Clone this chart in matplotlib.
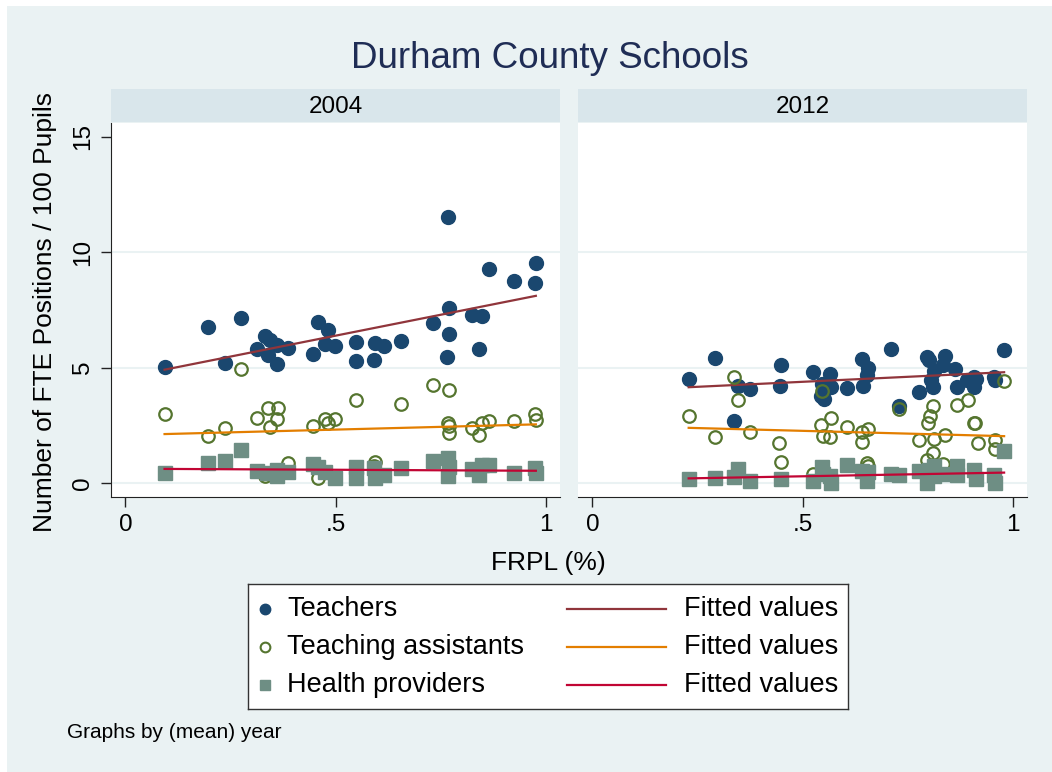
import matplotlib
matplotlib.use("Agg")
import matplotlib.pyplot as plt
import numpy as np

plt.rcParams['font.family'] = ['Liberation Sans', 'DejaVu Sans']

# ---- data (FRPL share, FTE per 100 pupils) ----
years = ["2004", "2012"]

t04_x = [0.093, 0.197, 0.236, 0.275, 0.313, 0.331, 0.340, 0.344, 0.360, 0.360, 0.388,
         0.447, 0.458, 0.482, 0.475, 0.498, 0.548, 0.548, 0.592, 0.595, 0.615, 0.655,
         0.732, 0.768, 0.771, 0.770, 0.766, 0.824, 0.849, 0.841, 0.865, 0.924, 0.977, 0.974]
t04_y = [5.03, 6.76, 5.20, 7.16, 5.81, 6.37, 5.55, 6.18, 5.97, 5.14, 5.87,
         5.61, 6.96, 6.64, 6.04, 5.95, 6.11, 5.29, 5.35, 6.08, 5.92, 6.14,
         6.93, 11.51, 7.59, 6.47, 5.46, 7.28, 7.24, 5.81, 9.27, 8.75, 9.55, 8.66]

ta04_x = [0.093, 0.197, 0.236, 0.276, 0.313, 0.340, 0.364, 0.360, 0.344, 0.331, 0.386,
          0.447, 0.458, 0.475, 0.483, 0.499, 0.548, 0.595, 0.592, 0.655, 0.732, 0.770,
          0.767, 0.770, 0.771, 0.824, 0.841, 0.849, 0.865, 0.924, 0.974, 0.977]
ta04_y = [3.01, 2.02, 2.38, 4.94, 2.83, 3.24, 3.27, 2.77, 2.42, 0.30, 0.85,
          2.48, 0.20, 2.78, 2.61, 2.78, 3.59, 0.92, 0.74, 3.41, 4.25, 4.04,
          2.58, 2.49, 2.15, 2.38, 2.07, 2.59, 2.67, 2.67, 2.97, 2.71]

hp04_x = [0.093, 0.197, 0.236, 0.275, 0.313, 0.338, 0.360, 0.360, 0.388, 0.447,
          0.458, 0.475, 0.498, 0.548, 0.548, 0.592, 0.595, 0.615, 0.655, 0.732,
          0.768, 0.770, 0.767, 0.824, 0.841, 0.849, 0.865, 0.924, 0.974, 0.977]
hp04_y = [0.42, 0.88, 0.94, 1.43, 0.51, 0.44, 0.30, 0.56, 0.48, 0.81,
          0.71, 0.48, 0.23, 0.71, 0.23, 0.64, 0.23, 0.36, 0.64, 0.97,
          1.07, 0.68, 0.30, 0.60, 0.35, 0.78, 0.78, 0.44, 0.64, 0.44]

t12_x = [0.229, 0.292, 0.338, 0.346, 0.375, 0.446, 0.450, 0.524, 0.546, 0.544, 0.550,
         0.566, 0.569, 0.605, 0.641, 0.657, 0.653, 0.643, 0.710, 0.730, 0.778, 0.796,
         0.800, 0.812, 0.807, 0.810, 0.835, 0.840, 0.862, 0.869, 0.892, 0.908, 0.914,
         0.908, 0.956, 0.958, 0.980]
t12_y = [4.50, 5.41, 2.69, 4.19, 4.06, 4.20, 5.13, 4.83, 4.28, 3.76, 3.63,
         4.73, 4.16, 4.12, 5.36, 5.00, 4.70, 4.21, 5.82, 3.33, 3.93, 5.46,
         5.32, 4.86, 4.45, 4.16, 5.13, 5.52, 4.92, 4.16, 4.48, 4.59, 4.52,
         4.16, 4.59, 4.48, 5.78]

ta12_x = [0.229, 0.292, 0.338, 0.346, 0.375, 0.444, 0.450, 0.524, 0.546, 0.543, 0.549,
          0.566, 0.569, 0.605, 0.641, 0.641, 0.655, 0.654, 0.657, 0.730, 0.778, 0.796,
          0.799, 0.804, 0.811, 0.811, 0.812, 0.835, 0.840, 0.869, 0.895, 0.908, 0.911,
          0.917, 0.958, 0.958, 0.980]
ta12_y = [2.91, 1.99, 4.61, 3.60, 2.20, 1.72, 0.92, 0.38, 3.99, 2.51, 2.03,
          2.00, 2.81, 2.43, 2.22, 1.77, 2.36, 0.85, 0.75, 3.20, 1.86, 0.99,
          2.62, 2.90, 3.33, 1.31, 1.90, 0.81, 2.08, 3.39, 3.59, 2.58, 2.58,
          1.72, 1.86, 1.47, 4.42]

hp12_x = [0.229, 0.292, 0.338, 0.346, 0.375, 0.450, 0.524, 0.546, 0.549, 0.566,
          0.569, 0.605, 0.641, 0.654, 0.657, 0.710, 0.730, 0.778, 0.796, 0.800,
          0.812, 0.812, 0.835, 0.869, 0.869, 0.908, 0.914, 0.956, 0.958, 0.980]
hp12_y = [0.16, 0.20, 0.27, 0.59, 0.08, 0.19, 0.08, 0.71, 0.40, 0.32,
          0.00, 0.78, 0.50, 0.07, 0.46, 0.40, 0.35, 0.50, 0.00, 0.58,
          0.72, 0.29, 0.40, 0.72, 0.35, 0.58, 0.17, 0.35, 0.00, 1.38]

# fitted values (lfit) read at the lowest and highest FRPL of each series
fit04_t = [4.91, 8.11]
fit04_ta = [2.12, 2.54]
fit04_hp = [0.61, 0.53]
fit12_t = [4.15, 4.80]
fit12_ta = [2.39, 2.03]
fit12_hp = [0.20, 0.45]

panels = {
    "2004": [(t04_x, t04_y, fit04_t), (ta04_x, ta04_y, fit04_ta), (hp04_x, hp04_y, fit04_hp)],
    "2012": [(t12_x, t12_y, fit12_t), (ta12_x, ta12_y, fit12_ta), (hp12_x, hp12_y, fit12_hp)],
}

series_names = ["Teachers", "Teaching assistants", "Health providers"]
dot_col = ["#1A476F", "#55752F", "#6E8E84"]
fit_col = ["#90353B", "#E37E00", "#C10534"]

W, H = 1052, 772
bg = "#EAF2F3"


def fx(px):
    return px / W


def fy(py):
    return 1 - py / H


fig = plt.figure(figsize=(W / 100, H / 100), dpi=100, facecolor="white")
fig.patches.append(plt.Rectangle((fx(7), 0), 1 - fx(7), fy(6), transform=fig.transFigure,
                                 facecolor=bg, edgecolor="none", zorder=-10))

fig.text(fx(550), fy(68), "Durham County Schools", ha="center", va="baseline",
         fontsize=26.5, color="#1F2D55")

lefts = [111, 578]
top, bottom, pw = 123, 497, 449
for i, yr in enumerate(years):
    ax = fig.add_axes([fx(lefts[i]), fy(bottom), pw / W, (bottom - top) / H])
    ax.set_facecolor("white")
    ax.set_xlim(-0.0345, 1.0345)
    ax.set_ylim(-0.607, 15.6)
    for y0 in [0, 5, 10]:
        ax.axhline(y0, color=bg, lw=1.5, zorder=0)

    for k, (xs, ys, fit) in enumerate(panels[yr]):
        if k == 0:
            ax.plot(xs, ys, "o", ms=10, color=dot_col[k], mec=dot_col[k], zorder=2 + 2 * k)
        elif k == 1:
            ax.plot(xs, ys, "o", ms=9, mfc="none", mec=dot_col[k], mew=1.6, zorder=2 + 2 * k)
        else:
            ax.plot(xs, ys, "s", ms=9.5, color=dot_col[k], mec=dot_col[k], zorder=2 + 2 * k)
        ax.plot([min(xs), max(xs)], fit, color=fit_col[k], lw=1.6, zorder=3 + 2 * k)

    ax.set_xticks([0, 0.5, 1])
    ax.set_xticklabels(["0", ".5", "1"], fontsize=17.5)
    ax.tick_params(axis="x", length=7, width=1, pad=5, color="#222222")
    for s in ["top", "right"]:
        ax.spines[s].set_visible(False)
    ax.spines["bottom"].set_color("#222222")
    if i == 0:
        ax.set_yticks([0, 5, 10, 15])
        ax.set_yticklabels(["0", "5", "10", "15"], fontsize=17.5, rotation=90, va="center")
        ax.tick_params(axis="y", length=7, width=1, pad=5, color="#222222")
        ax.spines["left"].set_color("#222222")
    else:
        ax.set_yticks([])
        ax.spines["left"].set_visible(False)

    strip = fig.add_axes([fx(lefts[i]), fy(top - 1), pw / W, (top - 1 - 89) / H])
    strip.set_facecolor("#D9E6EB")
    strip.set_xticks([])
    strip.set_yticks([])
    for s in strip.spines.values():
        s.set_visible(False)
    strip.text(0.5, 0.45, yr, ha="center", va="center", fontsize=17.5, transform=strip.transAxes)

fig.text(fx(45), fy(312), "Number of FTE Positions / 100 Pupils", rotation=90,
         ha="center", va="center", fontsize=19)
fig.text(fx(548), fy(563), "FRPL (%)", ha="center", va="center", fontsize=19)

# legend box
lg = fig.add_axes([fx(248), fy(709), 600 / W, 125 / H])
lg.set_xlim(0, 600)
lg.set_ylim(125, 0)
lg.set_facecolor("white")
lg.set_xticks([])
lg.set_yticks([])
for s in lg.spines.values():
    s.set_color("#333333")
    s.set_linewidth(1)
rows = [25, 63, 101]
for k, name in enumerate(series_names):
    if k == 0:
        lg.plot([17], [rows[k]], "o", ms=7.5, color=dot_col[k])
    elif k == 1:
        lg.plot([17], [rows[k]], "o", ms=7, mfc="none", mec=dot_col[k], mew=1.5)
    else:
        lg.plot([17], [rows[k]], "s", ms=7.5, color=dot_col[k])
    lg.text(39, rows[k], name, va="center", ha="left", fontsize=19.5)
    lg.plot([319, 418], [rows[k], rows[k]], color=fit_col[k], lw=1.6)
    lg.text(436, rows[k], "Fitted values", va="center", ha="left", fontsize=19.5)

fig.text(fx(67), fy(732), "Graphs by (mean) year", ha="left", va="center", fontsize=15)

fig.savefig("out.png", dpi=100, facecolor=fig.get_facecolor())
